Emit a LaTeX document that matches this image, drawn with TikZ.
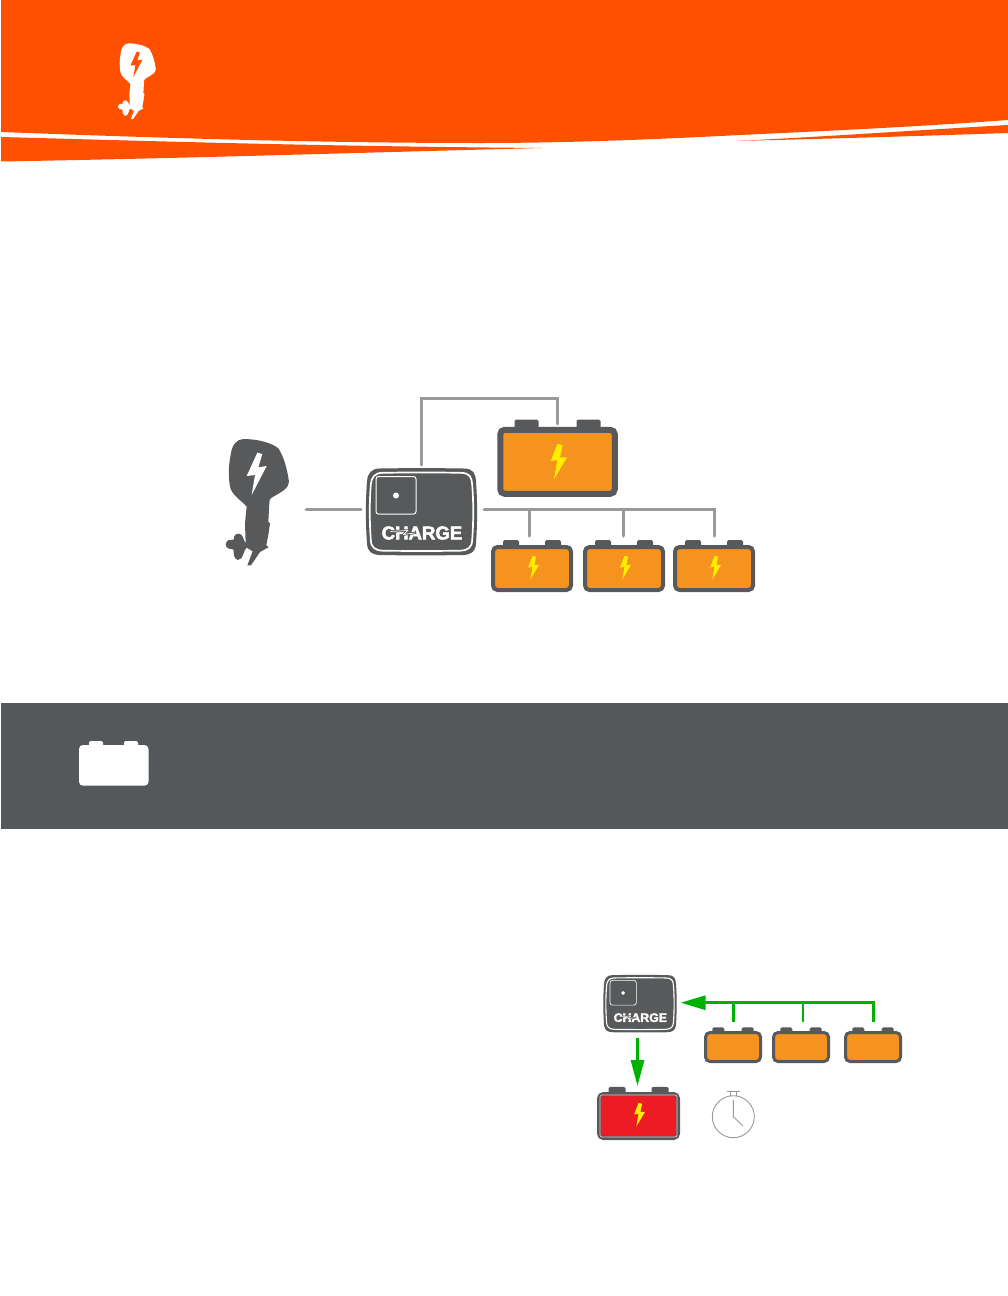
\documentclass[tikz,border=0pt]{standalone}
\usepackage{fontspec}
\setmainfont{Liberation Sans}
\newfontfamily\chgfont[UprightFont=* Bold,FakeBold=2.5]{Liberation Sans}
\usetikzlibrary{arrows.meta,calc}
\definecolor{hdr}{HTML}{FF5000}
\definecolor{slate}{HTML}{58595B}
\definecolor{band}{HTML}{55585A}
\definecolor{cell}{HTML}{F6921E}
\definecolor{wire}{HTML}{999999}
\definecolor{go}{HTML}{00B200}
\definecolor{bad}{HTML}{ED1C24}
\definecolor{spark}{HTML}{FFEE00}
\tikzset{
  x=1pt,y=-1pt,
  wireline/.style={draw=wire,line width=3pt,line cap=round,line join=miter},
  goline/.style={draw=go,line width=3pt},
  gotip/.style={-{Triangle[length=25pt,width=14pt]}},
  gotipv/.style={-{Triangle[length=26pt,width=13pt]}},
  cellbox/.style={rectangle,inner sep=0pt,rounded corners=4.5pt,draw=slate},
  ghost/.style={rectangle,inner sep=0pt,outer sep=0pt},
}
% name cx cy w h lw fill terminal-offset terminal-width
\newcommand\cellbat[9]{%
  \fill[slate,rounded corners=1.5pt] ({#2-#8-#9/2},{#3-#5/2+2}) rectangle ({#2-#8+#9/2},{#3-#5/2-0.3*#9});
  \fill[slate,rounded corners=1.5pt] ({#2+#8-#9/2},{#3-#5/2+2}) rectangle ({#2+#8+#9/2},{#3-#5/2-0.3*#9});
  \node[cellbox,fill=#7,line width=#6pt,minimum width={(#4-#6)*1pt},minimum height={(#5-#6)*1pt}] (#1) at (#2,#3) {};
}
% cx cy scale fill
\newcommand\sparkbolt[4]{%
  \fill[#4,shift={(#1,#2)},scale=#3] (-0.7,-18) -- (-7.3,-0.7) -- (-0.7,-2) -- (-4,17.3) -- (9,-4.7) -- (2,-4.7) -- (4.7,-17) -- cycle;
}
% x-shift y-shift scale body bolt
\newcommand\motorshape[5]{%
  \begin{scope}[shift={(#1,#2)},scale=#3]
    \fill[#4] (130,177) .. controls (165,177) and (210,185) .. (235,205)
      .. controls (252,230) and (262,270) .. (267,305)
      .. controls (268,325) and (240,338) .. (220,350)
      .. controls (208,356) and (207,362) .. (208,370)
      -- (205,425) -- (210,430) -- (205,465) -- (199,495) -- (205,502)
      -- (180,516) -- (153,556) -- (142,556) -- (158,514)
      -- (140,503) .. controls (130,508) and (132,540) .. (113,540)
      .. controls (98,535) and (103,518) .. (100,508)
      .. controls (92,508) and (76,506) .. (77,492)
      .. controls (80,478) and (92,478) .. (101,479)
      .. controls (100,467) and (108,460) .. (117,461)
      .. controls (130,463) and (130,480) .. (137,490)
      -- (135,430) -- (140,380)
      .. controls (125,362) and (95,345) .. (90,320)
      .. controls (85,290) and (85,260) .. (92,225)
      .. controls (95,195) and (110,178) .. (130,177) -- cycle;
    \fill[#5] (172,218) -- (140,288) -- (165,285) -- (155,345) -- (200,258) -- (175,262) -- (187,222) -- cycle;
  \end{scope}%
}
\newcommand\chargeoutline{(-42,-43) .. controls (-14,-43.5) and (14,-43.5) .. (42,-43) .. controls (52,-43) and (54,-38) .. (54.5,-30) .. controls (56,-10) and (56,10) .. (54.5,32) .. controls (54,40) and (50,43) .. (42,43.5) .. controls (14,44) and (-14,44) .. (-42,43.5) .. controls (-50,43) and (-54,40) .. (-54.5,32) .. controls (-56,10) and (-56,-10) .. (-54.5,-30) .. controls (-54,-38) and (-50,-43) .. (-42,-43) -- cycle}
% name cx cy scale fontsize
\newcommand\chargeunit[5]{%
  \node[ghost,minimum width={111*#4*1pt},minimum height={87*#4*1pt}] (#1) at (#2,#3) {};
  \begin{scope}[shift={(#2,#3)},scale=#4]
    \fill[slate] \chargeoutline;
    \begin{scope}[xscale=.93,yscale=.9]
      \draw[white,line width={1.7*#4*1pt}] \chargeoutline;
    \end{scope}
    \draw[white,line width={1*#4*1pt},rounded corners=2.5pt] (-45.5,-35) rectangle (-5.5,2.5);
    \fill[white] (-25.5,-16) circle (3);
    \node[text=white,font=\chgfont\fontsize{#5}{#5}\selectfont,inner sep=0pt] (#1txt) at (0.5,21.5) {CHARGE};
    \draw[slate,line width={2.4*#4*1pt}] (-31,20) -- (-14,19) -- (-18,23) -- (-7,21.5);
    \draw[white,line width={.7*#4*1pt}] (-31,20) -- (-14,19) -- (-18,23) -- (-7,21.5);
  \end{scope}%
}
\begin{document}
\begin{tikzpicture}
\useasboundingbox (0,0) rectangle (1008,1296);
\fill[white] (0,0) rectangle (1008,1296);
% header
\fill[hdr] (1,0) -- (1008,0) -- (1008,120) .. controls (900,128) and (800,132) .. (720,136) .. controls (640,140) and (560,143) .. (480,143) .. controls (320,143) and (160,138) .. (1,132) -- cycle;
\fill[hdr] (1,137) .. controls (150,141) and (300,146) .. (543,148) .. controls (380,152) and (200,158) .. (1,161.5) -- cycle;
\fill[hdr] (735,141) .. controls (820,137) and (920,130) .. (1008,125) -- (1008,133) .. controls (920,136) and (820,139) .. (735,141) -- cycle;
\motorshape{102.4}{8}{.2}{white}{hdr}
% grey band
\fill[band] (1,703) rectangle (1008,829);
\fill[white,rounded corners=2pt] (89,741) rectangle (103,748);
\fill[white,rounded corners=2pt] (124,741) rectangle (138,748);
\fill[white,rounded corners=4pt] (79,745) rectangle (148.5,785.7);
% upper diagram
\node[ghost,minimum width=64pt,minimum height=128pt] (motor) at (257,502) {};
\motorshape{200}{380}{1/3}{slate}{white}
\chargeunit{dev}{421.5}{511.5}{1}{18.6}
\cellbat{bigbat}{557.5}{461.8}{120.5}{70}{6}{cell}{31}{24}
\sparkbolt{558}{462}{1}{spark}
\cellbat{batA}{532}{568.5}{82}{47}{4}{cell}{21}{16}
\cellbat{batB}{624}{568.5}{82}{47}{4}{cell}{21}{16}
\cellbat{batC}{714}{568.5}{82}{47}{4}{cell}{21}{16}
\sparkbolt{533}{568}{.67}{spark}
\sparkbolt{625}{568}{.67}{spark}
\sparkbolt{715}{568}{.67}{spark}
\coordinate (rail) at (0,509.5);
\draw[wireline,shorten <=17pt,shorten >=5pt] (motor.east |- rail) -- (dev.west |- rail);
\draw[wireline,shorten <=3pt,shorten >=3pt] (dev.north) -- ++(0,-69.5) -| (bigbat.north);
\draw[wireline,shorten <=7pt,shorten >=9pt] (dev.east |- rail) -| (batC.north);
\coordinate (jA) at (529.5,509.5);
\coordinate (jB) at (623,509.5);
\draw[wireline,shorten >=9pt] (jA) -- (jA |- batA.north);
\draw[wireline,shorten >=9pt] (jB) -- (jB |- batB.north);
% lower diagram
\chargeunit{devs}{640}{1003.5}{.66}{12.3}
\cellbat{sA}{733}{1047}{58}{32}{3}{cell}{14.7}{12}
\cellbat{sB}{801}{1047}{58}{32}{3}{cell}{14.7}{12}
\cellbat{sC}{873}{1047}{58}{32}{3}{cell}{14.7}{12}
\cellbat{redbat}{638.5}{1116}{83}{48}{4}{bad}{21.5}{17}
\draw[white!70!bad,line width=.7pt,rounded corners=2pt] (600,1095) rectangle (677,1137);
\sparkbolt{639}{1115}{.67}{spark}
\coordinate (grail) at (0,1002.7);
\draw[goline,gotip,shorten <=9pt,shorten >=4pt] (sC.north) |- (devs.east |- grail);
\draw[goline,shorten >=9pt] (sA.north |- grail) -- (sA.north);
\coordinate (midj) at (803,1002.7);
\draw[goline,line width=2pt,shorten >=9pt] (midj) -- (midj |- sB.north);
\draw[goline,gotipv,shorten <=6pt,shorten >=6pt] (devs.south -| redbat.north) ++(-1,0) coordinate (dtop) -- (dtop |- redbat.north);
% stopwatch
\node[ghost,circle,draw=wire,line width=.9pt,minimum size=42pt] (watch) at (733.3,1116.7) {};
\draw[wire,line width=.9pt] (733.3,1100) -- (watch.center) -- (743,1126);
\draw[wire,line width=.9pt] (730.7,1096) -- (730.7,1091.7) (736,1096) -- (736,1091.7) (726.7,1091.7) -- (739.5,1091.7);
\end{tikzpicture}
\end{document}
